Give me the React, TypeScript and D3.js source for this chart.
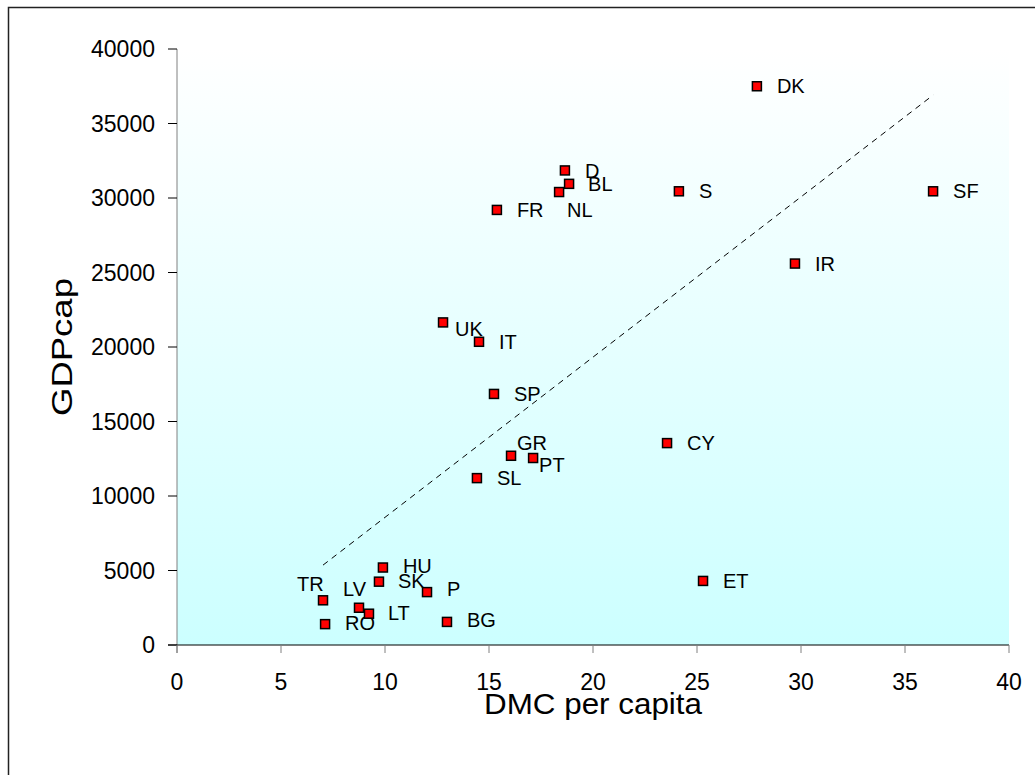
import React from "react";
import * as d3 from "d3";

const countries = ["DK","SF","S","IR","D","BL","NL","FR","UK","IT","SP","GR","PT","SL","CY","ET","TR","RO","LV","LT","HU","SK","P","BG"];
const dmcPerCapita = [27.88,36.35,24.13,29.71,18.65,18.85,18.37,15.38,12.79,14.52,15.24,16.06,17.12,14.42,23.56,25.29,7.02,7.12,8.75,9.23,9.90,9.71,12.02,12.98];
const gdpCap = [37500,30450,30450,25600,31850,30950,30400,29200,21650,20350,16850,12700,12550,11200,13550,4300,3000,1400,2500,2100,5200,4250,3550,1550];
// label offsets in px (dx, dy) relative to marker
const labelDx = [20,20,20,20,20,19,8,20,12,20,20,6,6,20,20,20,-26,20,-16,19,20,19,20,20];
const labelDy = [0,0,0,0,0,0,18,0,6,0,0,-13,7,0,0,0,-17,-1,-19,-1,-2,-1,-3,-2];
const xTicks = [0,5,10,15,20,25,30,35,40];
const yTicks = [0,5000,10000,15000,20000,25000,30000,35000,40000];

export default function App() {
  const left = 177, right = 1009, top = 49, bottom = 645;
  const x = d3.scaleLinear().domain([0, 40]).range([left, right]);
  const y = d3.scaleLinear().domain([0, 40000]).range([bottom, top]);
  const font = "'Liberation Sans', Arial, sans-serif";

  const n = dmcPerCapita.length;
  const mx = d3.mean(dmcPerCapita)!;
  const my = d3.mean(gdpCap)!;
  let sxy = 0, sxx = 0;
  for (let i = 0; i < n; i++) {
    sxy += (dmcPerCapita[i] - mx) * (gdpCap[i] - my);
    sxx += (dmcPerCapita[i] - mx) ** 2;
  }
  const slope = sxy / sxx;
  const intercept = my - slope * mx;
  const x0 = d3.min(dmcPerCapita)!;
  const x1 = d3.max(dmcPerCapita)!;
  const trend = d3.line<number>().x((d) => x(d)).y((d) => y(intercept + slope * d));

  return (
    <svg width={1035} height={775} style={{ position: "absolute", left: 0, top: 0 }} fontFamily={font}>
      <defs>
        <linearGradient id="bg" x1="0" y1="0" x2="0" y2="1">
          <stop offset="0" stopColor="#ffffff" />
          <stop offset="1" stopColor="#ccffff" />
        </linearGradient>
      </defs>
      <rect x={0} y={0} width={1035} height={775} fill="#fff" />
      <rect x={8.5} y={7.5} width={1100} height={800} fill="none" stroke="#222" strokeWidth={1.5} />
      <rect x={left} y={top} width={right - left} height={bottom - top} fill="url(#bg)" />
      {/* y axis */}
      <line x1={left} x2={left} y1={top} y2={bottom + 8} stroke="#808080" strokeWidth={1} />
      {yTicks.map((t) => (
        <g key={"y" + t}>
          <line x1={left - 9} x2={left} y1={y(t)} y2={y(t)} stroke="#000" />
          <text x={155} y={y(t)} dy="0.35em" textAnchor="end" fontSize={23} fill="#000">{t}</text>
        </g>
      ))}
      {/* x axis */}
      <line x1={left - 9} x2={right} y1={bottom} y2={bottom} stroke="#000" strokeWidth={1} />
      {xTicks.map((t) => (
        <g key={"x" + t}>
          <line x1={x(t)} x2={x(t)} y1={bottom} y2={bottom + 8} stroke="#808080" />
          <text x={x(t)} y={682} dy="0.35em" textAnchor="middle" fontSize={23} fill="#000">{t}</text>
        </g>
      ))}
      {/* trend line */}
      <path d={trend([x0, x1])!} fill="none" stroke="#000" strokeWidth={1} strokeDasharray="6,5" />
      {/* points */}
      {countries.map((c, i) => (
        <g key={c}>
          <rect x={x(dmcPerCapita[i]) - 4.5} y={y(gdpCap[i]) - 4.5} width={9} height={9} fill="#ff0000" stroke="#000" strokeWidth={1.5} />
          <text x={x(dmcPerCapita[i]) + labelDx[i]} y={y(gdpCap[i]) + labelDy[i]} dy="0.36em" fontSize={20} fill="#000">{c}</text>
        </g>
      ))}
      <text x={593} y={703} dy="0.35em" textAnchor="middle" fontSize={30} fill="#000" textLength={218} lengthAdjust="spacingAndGlyphs">DMC per capita</text>
      <text transform={`translate(61,${(top + bottom) / 2}) rotate(-90)`} dy="0.35em" textAnchor="middle" fontSize={30} fill="#000" textLength={138} lengthAdjust="spacingAndGlyphs">GDPcap</text>
    </svg>
  );
}
